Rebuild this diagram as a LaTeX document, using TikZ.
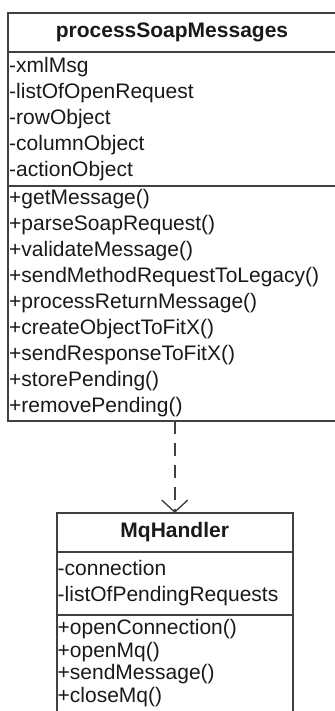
\documentclass[tikz,border=0pt]{standalone}
\usepackage{fontspec}
\setmainfont{Liberation Sans}
\usetikzlibrary{arrows.meta,positioning}
\definecolor{umlline}{RGB}{64,64,64}
\definecolor{umltext}{RGB}{25,25,25}

\begin{document}
\begin{tikzpicture}[
    x=0.5pt, y=-0.5pt,
    every node/.style={font=\fontsize{10.5}{13}\selectfont, text=umltext},
    part/.style={draw=umlline, line width=1pt, outer sep=0pt, inner xsep=0.6pt, inner ysep=0pt, align=left},
    classname/.style={part, align=center, minimum height=19.5pt, font=\fontsize{10.5}{13}\selectfont\bfseries},
    depends/.style={draw=umlline, line width=0.9pt, dash pattern=on 6.5pt off 4.5pt, -{Straight Barb[length=6pt,width=13pt,line width=0.7pt]}},
]
\useasboundingbox (0,0) rectangle (334,711);

% processSoapMessages class
\node[classname, anchor=north west, minimum width=164pt] (psmTitle) at (8,13) {processSoapMessages};
\node[part, below=0pt of psmTitle, text width=162.8pt, minimum height=67pt] (psmAttrs)
    {-xmlMsg\\-listOfOpenRequest\\-rowObject\\-columnObject\\-actionObject};
\node[part, below=0pt of psmAttrs, text width=162.8pt, minimum height=117.5pt] (psmMethods)
    {+getMessage()\\+parseSoapRequest()\\+validateMessage()\\+sendMethodRequestToLegacy()\\+processReturnMessage()\\+createObjectToFitX()\\+sendResponseToFitX()\\+storePending()\\+removePending()};

% MqHandler class (cut off at the bottom)
\node[classname, anchor=north west, minimum width=118.25pt] (mqTitle) at (56.5,513) {MqHandler};
\node[part, below=0pt of mqTitle, text width=117.05pt, minimum height=31.5pt] (mqAttrs)
    {-connection\\-listOfPendingRequests};
\node[part, draw=none, below=0pt of mqAttrs, text width=117.05pt, minimum height=48pt,
      font=\fontsize{10.5}{11.4}\selectfont] (mqMethods)
    {+openConnection()\\+openMq()\\+sendMessage()\\+closeMq()};
\draw[umlline, line width=1pt] (mqMethods.north west) rectangle ([yshift=-6pt]mqMethods.south east);

\draw[depends] (mqTitle.north |- psmMethods.south) -- (mqTitle.north);
\end{tikzpicture}
\end{document}
